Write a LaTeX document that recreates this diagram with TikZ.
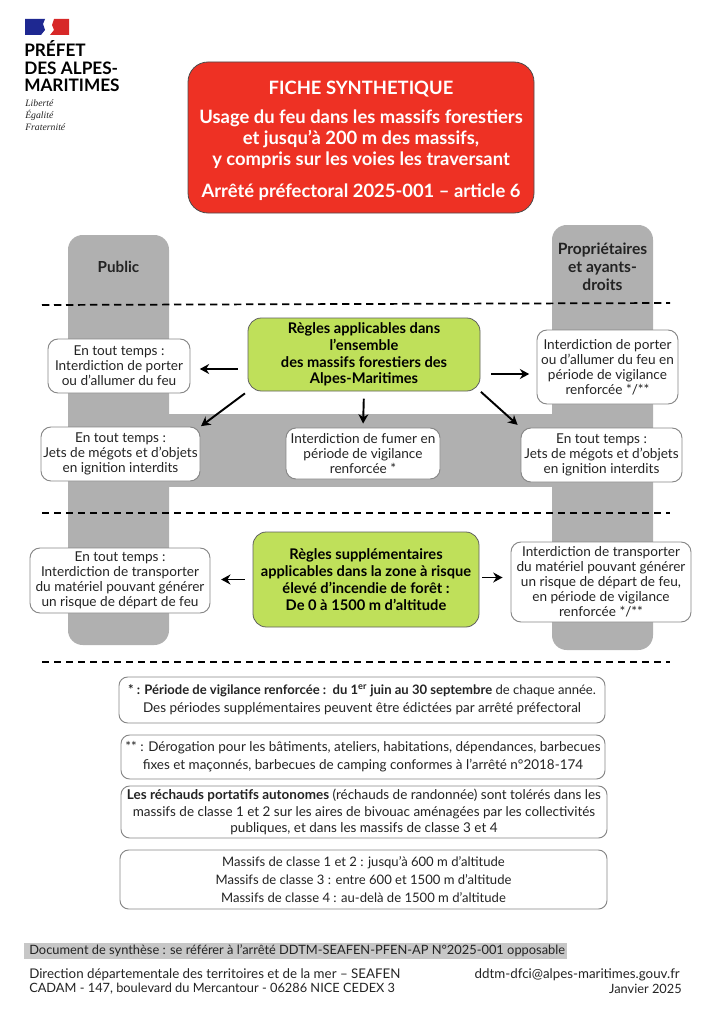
\documentclass[tikz,border=0pt]{standalone}
\usepackage{fontspec}
\usepackage{xcolor}
\usetikzlibrary{arrows.meta}
\setmainfont{Lato}
\newfontfamily\devisefont{Liberation Serif}

\definecolor{fondgris}{RGB}{176,176,176}
\definecolor{rouge}{RGB}{238,49,36}
\definecolor{vert}{RGB}{191,224,90}
\definecolor{encre}{RGB}{35,35,35}
\definecolor{bord}{RGB}{135,135,135}
\definecolor{bleuflag}{RGB}{30,40,145}
\definecolor{rougeflag}{RGB}{215,40,40}

\tikzset{
    taille/.style 2 args={minimum width=#1*0.75pt,minimum height=#2*0.75pt},
    boite/.style={draw=bord,line width=0.7pt,fill=white,rounded corners=7.5pt,inner sep=0pt,align=center,text=encre,font=\fontsize{10.2}{11.3}\selectfont},
    regle/.style={draw=bord!70!black,line width=0.6pt,fill=vert,rounded corners=10pt,inner sep=0pt,align=center,text=black,font=\fontsize{11}{12.6}\selectfont\bfseries},
    note/.style={boite,rounded corners=6.5pt,font=\fontsize{10.1}{13.6}\selectfont},
    fleche/.style={-{Stealth[length=7pt,width=7.5pt]},line width=1.45pt,black},
    coupure/.style={dash pattern=on 5.6pt off 3.4pt,line width=1.3pt,black},
    pied/.style={anchor=west,inner sep=0pt,text=encre,font=\fontsize{10}{10.6}\selectfont},
}

\begin{document}
\begin{tikzpicture}[x=0.75pt,y=0.75pt,yscale=-1.,xscale=1.]
    \useasboundingbox (0,0) rectangle (726,1024);

    %Shape: grey columns and band
    \fill [fondgris] (169,414) rectangle (552,487);
    \fill [fondgris,rounded corners=11pt] (68,235) rectangle (169,645);
    \fill [fondgris,rounded corners=11pt] (552,225) rectangle (653,650);

    %Shape: flag
    \fill [bleuflag] (25,19) -- (45,19) -- (43,24) -- (45,30) -- (41,35) -- (25,35) -- cycle ;
    \fill [rougeflag] (54,19) -- (69,19) -- (69,35) -- (50,35) -- (54,30) -- (52,25) -- cycle ;

    % Text Node
    \node (prefet) [anchor=north west,inner sep=0pt,align=left,font=\fontsize{12.9}{13.2}\selectfont\bfseries,text=black] at (24,40.5) {PRÉFET\\DES ALPES-\\MARITIMES};
    % Text Node
    \node (devise) [anchor=north west,inner sep=0pt,align=left,font=\devisefont\itshape\fontsize{7.3}{9}\selectfont,text=encre] at (25,99) {Liberté\\Égalité\\Fraternité};

    %Shape: title
    \node (titre) [taille={346}{151},fill=rouge,draw=black!70,line width=0.6pt,rounded corners=15pt,inner sep=0pt,align=center,text=white,font=\fontsize{13.8}{15.8}\selectfont\bfseries] at (361,137.5) {\rule{0pt}{15pt}FICHE SYNTHETIQUE\\[6pt]Usage du feu dans les massifs forestiers\\et jusqu’à 200 m des massifs,\\y compris sur les voies les traversant\\[8pt]Arrêté préfectoral 2025-001 – article 6};

    % Text Node
    \node (public) [inner sep=0pt,text=encre,font=\fontsize{11.4}{12}\selectfont\bfseries] at (118.5,267) {Public};
    % Text Node
    \node (ayants) [inner sep=0pt,align=center,text=encre,font=\fontsize{11.7}{13.4}\selectfont\bfseries] at (602.5,267) {Propriétaires\\et ayants-\\droits};

    %Straight Lines
    \coordinate (c1a) at (42,305);
    \coordinate (c1b) at (670,303);
    \coordinate (c2a) at (42,513);
    \coordinate (c2b) at (670,513);
    \coordinate (c3a) at (42,662);
    \coordinate (c3b) at (670,662);
    \draw [coupure] (c1a) -- (c1b);
    \draw [coupure] (c2a) -- (c2b);
    \draw [coupure] (c3a) -- (c3b);

    %Shape: rules
    \node (ensemble) [regle,taille={232}{73}] at (364,354.5) {Règles applicables dans\\l’ensemble\\des massifs forestiers des\\Alpes-Maritimes};
    \node (zone) [regle,taille={226}{95}] at (366,579.5) {Règles supplémentaires\\applicables dans la zone à risque\\élevé d’incendie de forêt :\\De 0 à 1500 m d’altitude};

    %Shape: public side
    \node (porter) [boite,taille={142}{54}] at (119,366) {En tout temps :\\Interdiction de porter\\ou d’allumer du feu};
    \node (jets) [boite,taille={159}{54}] at (120.5,454) {En tout temps :\\Jets de mégots et d’objets\\en ignition interdits};
    \node (materiel) [boite,taille={180}{65}] at (120,580.5) {En tout temps :\\Interdiction de transporter\\du matériel pouvant générer\\un risque de départ de feu};

    %Shape: middle
    \node (fumer) [boite,taille={154}{51}] at (363,453.5) {Interdiction de fumer en\\période de vigilance\\renforcée *};

    %Shape: owners side
    \node (porterbis) [boite,taille={141}{74}] at (607.5,367) {Interdiction de porter\\ou d’allumer du feu en\\période de vigilance\\renforcée */**};
    \node (jetsbis) [boite,taille={161}{54}] at (601.5,455) {En tout temps :\\Jets de mégots et d’objets\\en ignition interdits};
    \node (materielbis) [boite,taille={180}{80}] at (601,582) {Interdiction de transporter\\du matériel pouvant générer\\un risque de départ de feu,\\en période de vigilance\\renforcée */**};

    %Straight Lines
    \draw [fleche,shorten <=7.5pt,shorten >=7pt] ([yshift=2.25pt]ensemble.west |- porter.east) -- ([yshift=2.25pt]porter.east);
    \draw [fleche,shorten <=8pt,shorten >=5.5pt] ([yshift=5.25pt]ensemble.east |- porterbis.west) -- ([yshift=5.25pt]porterbis.west);
    \draw [fleche,shorten <=2.5pt,shorten >=0.5pt] (ensemble.south west) -- (jets.north east);
    \draw [fleche,shorten <=5.5pt,shorten >=3pt] (ensemble.south) -- (fumer.north);
    \draw [fleche,shorten <=0.5pt,shorten >=3pt] (ensemble.south east) -- (jetsbis.north west);
    \draw [fleche,shorten <=6pt,shorten >=8pt] (zone.west) -- (zone.west -| materiel.east);
    \draw [fleche,shorten <=2pt,shorten >=6pt] ([yshift=-1.5pt]zone.east) -- ([yshift=-1.5pt]zone.east -| materielbis.west);

    %Shape: notes
    \node (vigilance) [note,taille={486}{46}] at (362,700) {\fontsize{9.8}{13.6}\selectfont\textbf{* : Période de vigilance renforcée :\ \ du 1\textsuperscript{er} juin au 30 septembre} de chaque année.\\\fontsize{10.1}{13.6}\selectfont Des périodes supplémentaires peuvent être édictées par arrêté préfectoral};
    \node (derogation) [note,taille={484}{44}] at (363,757) {** : Dérogation pour les bâtiments, ateliers, habitations, dépendances, barbecues\\fixes et maçonnés, barbecues de camping conformes à l’arrêté n°2018-174};
    \node (rechauds) [note,taille={486}{52},font=\fontsize{10.1}{12.4}\selectfont] at (364,812) {\textbf{Les réchauds portatifs autonomes} (réchauds de randonnée) sont tolérés dans les\\massifs de classe 1 et 2 sur les aires de bivouac aménagées par les collectivités\\publiques, et dans les massifs de classe 3 et 4};
    \node (classes) [note,taille={487}{59},font=\fontsize{9.8}{13.6}\selectfont] at (363.5,879.5) {Massifs de classe 1 et 2 : jusqu’à 600 m d’altitude\\Massifs de classe 3 : entre 600 et 1500 m d’altitude\\Massifs de classe 4 : au-delà de 1500 m d’altitude};

    %Shape: footer
    \fill [black!22] (24,943) rectangle (567,959);
    % Text Node
    \node (synthese) [pied,font=\fontsize{9.64}{10.6}\selectfont] at (29,951) {Document de synthèse : se référer à l’arrêté DDTM-SEAFEN-PFEN-AP N°2025-001 opposable};
    \node (direction) [pied] at (29,975) {Direction départementale des territoires et de la mer – SEAFEN};
    \node (cadam) [pied,font=\fontsize{9.6}{10.6}\selectfont] at (29,989) {CADAM - 147, boulevard du Mercantour - 06286 NICE CEDEX 3};
    \node (courriel) [pied,anchor=east] at (680,975) {ddtm-dfci@alpes-maritimes.gouv.fr};
    \node (date) [pied,anchor=east,font=\fontsize{9.6}{10.6}\selectfont] at (682,989) {Janvier 2025};
\end{tikzpicture}
\end{document}
